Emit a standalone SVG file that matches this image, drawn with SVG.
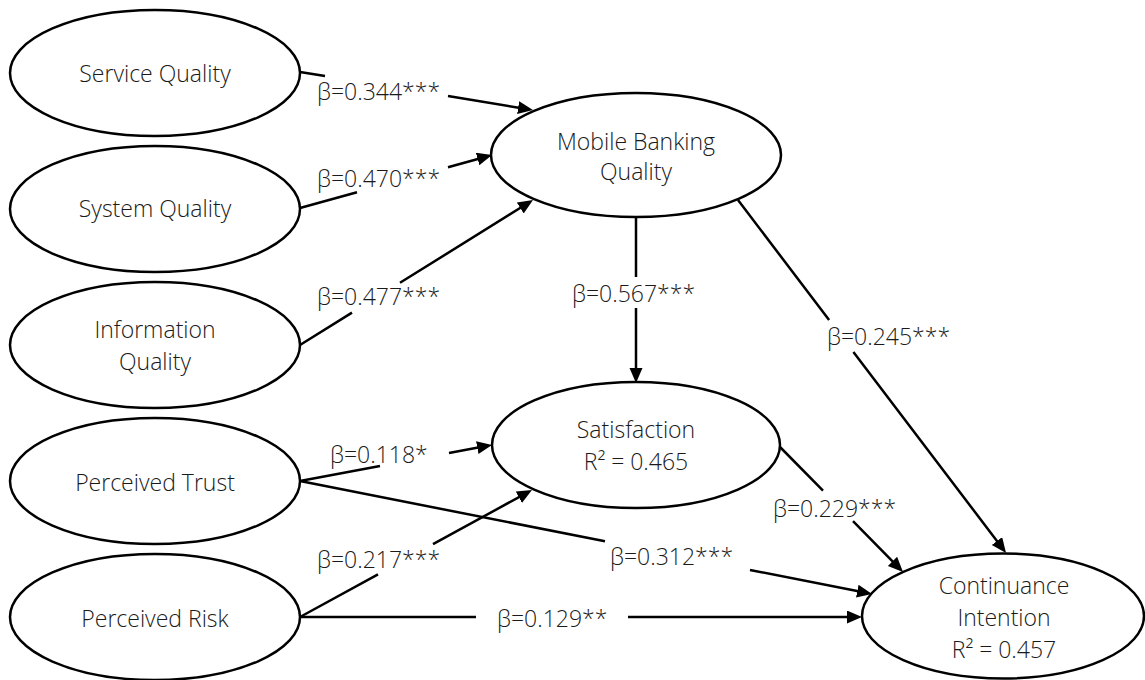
<svg xmlns="http://www.w3.org/2000/svg" width="1145" height="680" viewBox="0 0 1145 680">
  <style>
    .node ellipse { fill: #ffffff; stroke: #000000; stroke-width: 2.5; }
    .node text { font-family: "Open Sans", "Noto Sans", "Liberation Sans", sans-serif; font-weight: 300; font-size: 23px; fill: #1a1a1a; text-anchor: middle; }
    .edge { fill: none; stroke: #000000; stroke-width: 2.5; marker-end: url(#arrow); }
    .label { font-family: "Open Sans", "Noto Sans", "Liberation Sans", sans-serif; font-weight: 300; font-size: 23px; fill: #1a1a1a; }
  </style>
  <defs>
    <marker id="arrow" markerUnits="userSpaceOnUse" markerWidth="16" markerHeight="14" refX="5" refY="6.5" orient="auto">
      <path d="M0,0 L15,6.5 L0,13 Z" fill="#000000"/>
    </marker>
  </defs>
  <rect x="0" y="0" width="1145" height="680" fill="#ffffff"/>

  <!-- Paths between constructs; each one is broken where its coefficient sits -->
  <g id="connectors">
    <path class="edge" d="M300,72 L325,76.1 M448,96.1 L523.1,108.4"/>
    <path class="edge" d="M300,208 L357,192.3 M448,167.2 L482.4,157.7"/>
    <path class="edge" d="M300,345 L352,312.6 M400,282.8 L524.5,205.3"/>
    <path class="edge" d="M636,217 L636,277 M636,308 L636,373"/>
    <path class="edge" d="M738,200 L829.1,320 M853.4,352 L1000,545"/>
    <path class="edge" d="M300,481 L380,466 M449,453.1 L482.2,446.8"/>
    <path class="edge" d="M300,617 L378,574.3 M433,544.2 L523.2,494.8"/>
    <path class="edge" d="M300,481 L605,541.3 M750,569.9 L862.2,592.1"/>
    <path class="edge" d="M300,617 L476,617 M628,617 L852,617"/>
    <path class="edge" d="M780,447 L823,490.7 M853,521.2 L896,564.9"/>

    <text class="label" x="317" y="100">β=0.344***</text>
    <text class="label" x="317" y="187">β=0.470***</text>
    <text class="label" x="317" y="305">β=0.477***</text>
    <text class="label" x="572" y="302">β=0.567***</text>
    <text class="label" x="827" y="345">β=0.245***</text>
    <text class="label" x="330" y="463">β=0.118*</text>
    <text class="label" x="317" y="568">β=0.217***</text>
    <text class="label" x="610" y="565">β=0.312***</text>
    <text class="label" x="497" y="627">β=0.129**</text>
    <text class="label" x="773" y="517">β=0.229***</text>
  </g>

  <g id="service-quality" class="node">
    <ellipse cx="155" cy="73" rx="145" ry="63"/>
    <text x="155" y="82">Service Quality</text>
  </g>
  <g id="system-quality" class="node">
    <ellipse cx="155" cy="209" rx="145" ry="63"/>
    <text x="155" y="217">System Quality</text>
  </g>
  <g id="information-quality" class="node">
    <ellipse cx="155" cy="345" rx="145" ry="63"/>
    <text x="155" y="338">Information</text>
    <text x="155" y="370">Quality</text>
  </g>
  <g id="perceived-trust" class="node">
    <ellipse cx="155" cy="481" rx="145" ry="63"/>
    <text x="155" y="491">Perceived Trust</text>
  </g>
  <g id="perceived-risk" class="node">
    <ellipse cx="155" cy="617" rx="145" ry="63"/>
    <text x="155" y="627">Perceived Risk</text>
  </g>
  <g id="mobile-banking-quality" class="node">
    <ellipse cx="636" cy="155" rx="145" ry="62"/>
    <text x="636" y="150">Mobile Banking</text>
    <text x="636" y="180">Quality</text>
  </g>
  <g id="satisfaction" class="node">
    <ellipse cx="636" cy="445" rx="144" ry="63"/>
    <text x="636" y="438">Satisfaction</text>
    <text x="636" y="470">R² = 0.465</text>
  </g>
  <g id="continuance-intention" class="node">
    <ellipse cx="1003" cy="616" rx="141" ry="62.5"/>
    <text x="1004" y="594">Continuance</text>
    <text x="1004" y="626">Intention</text>
    <text x="1004" y="658">R² = 0.457</text>
  </g>
</svg>
